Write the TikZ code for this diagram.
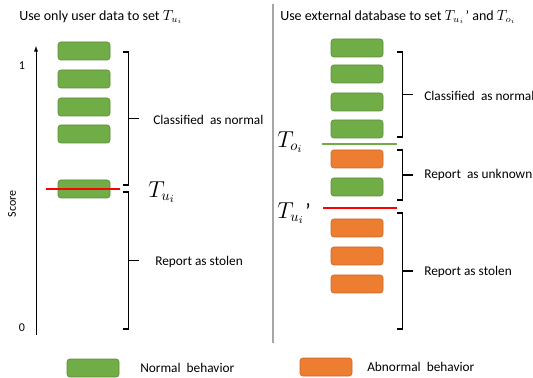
\documentclass[tikz,border=0pt]{standalone}
\usepackage{fontspec}
\setmainfont{Carlito}
\usetikzlibrary{positioning}
\usetikzlibrary{calc}
\usetikzlibrary{arrows}
\definecolor{normalgreen}{RGB}{112,173,71}
\definecolor{abnormalorange}{RGB}{237,125,49}
\tikzset{
    nbox/.style={draw=normalgreen!80!black,line width=0.4pt,fill=normalgreen,rounded corners=2pt,minimum width=39pt,minimum height=13.5pt,inner sep=0pt},
    abox/.style={nbox,draw=abnormalorange!85!black,fill=abnormalorange},
    lbl/.style={anchor=west,inner sep=0pt,font=\fontsize{10}{12}\selectfont},
    thr/.style={anchor=west,inner sep=0pt,font=\fontsize{16}{18}\selectfont},
    sqbrace/.style={line width=0.9pt,to path={-- ++(5.5,0) -- ($(\tikztotarget)+(5.5,0)$) -- (\tikztotarget)
        ([xshift=4.125pt]$(\tikztostart)!0.5!(\tikztotarget)$) -- ++(10,0)}}
}

\begin{document}
\begin{tikzpicture}[x=0.75pt,y=-0.75pt]
            \useasboundingbox (0,0) rectangle (533,378);

            % titles
            \node (ltitle) [anchor=west,inner sep=0pt,font=\fontsize{10.5}{12}\selectfont] at (19,17) {Use only user data to set \(T_{u_i}\)};
            \node (rtitle) [anchor=west,inner sep=0pt,font=\fontsize{10.5}{12}\selectfont] at (280,17) {Use external database to set \(T_{u_i}\)\kern1pt' and \(T_{o_i}\)};

            % score axis
            \coordinate (a0) at (36,335);
            \coordinate (a1) at (36,46);
            \draw[-latex,line width=0.5pt] (a0) -- (a1);
            \node (one)   [inner sep=0pt,font=\fontsize{9}{10}\selectfont] at (22,66)  {1};
            \node (zero)  [inner sep=0pt,font=\fontsize{9}{10}\selectfont] at (22,328) {0};
            \node (score) [inner sep=0pt,rotate=90,font=\fontsize{9}{10}\selectfont] at (12,204) {Score};

            % divider
            \coordinate (d0) at (273,4);
            \coordinate (d1) at (273,343);
            \draw[gray!70,line width=1.2pt] (d0) -- (d1);

            % left column
            \foreach \y [count=\i] in {51,79,107,134,189}
                \node (l\i) [nbox] at (84,\y) {};
            \coordinate (tl0) at (46,189);
            \coordinate (tl1) at (120,189);
            \draw[red,line width=1.4pt] (tl0) -- (tl1);
            \node (tul) [thr] at (148,192) {\(T_{u_i}\)};

            \coordinate (lb1t) at (123,52);
            \coordinate (lb1b) at (123,185);
            \coordinate (lb2t) at (123,192);
            \coordinate (lb2b) at (123,329);
            \draw[sqbrace] (lb1t) to (lb1b);
            \draw[sqbrace] (lb2t) to (lb2b);
            \node (lnorm)   [lbl] at (153,120) {Classified\ \ as normal};
            \node (lstolen) [lbl] at (155,262) {Report as stolen};

            % right column
            \foreach \y [count=\i] in {48,74,102,129}
                \node (r\i) [nbox] at (357,\y) {};
            \node (r5) [abox] at (357,159) {};
            \node (r6) [nbox] at (357,187) {};
            \foreach \y [count=\i from 7] in {228,256,284}
                \node (r\i) [abox] at (357,\y) {};

            \coordinate (to0) at (322,144);
            \coordinate (to1) at (397,144);
            \draw[normalgreen,line width=1.4pt] (to0) -- (to1);
            \coordinate (tu0) at (323,208);
            \coordinate (tu1) at (397,208);
            \draw[red,line width=1.4pt] (tu0) -- (tu1);
            \node (tor) [thr] at (277,142) {\(T_{o_i}\)};
            \node (tur) [thr] at (277,213) {\(T_{u_i}\)\kern1pt'};

            \coordinate (rb1t) at (397,52);
            \coordinate (rb1b) at (397,137);
            \coordinate (rb2t) at (397,150);
            \coordinate (rb2b) at (397,200);
            \coordinate (rb3t) at (397,213);
            \coordinate (rb3b) at (397,329);
            \draw[sqbrace] (rb1t) to (rb1b);
            \draw[sqbrace] (rb2t) to (rb2b);
            \draw[sqbrace] (rb3t) to (rb3b);
            \node (rnorm)    [lbl] at (424,96)  {Classified\ \ as normal};
            \node (runknown) [lbl] at (424,175) {Report\ \ as unknown};
            \node (rstolen)  [lbl] at (424,272) {Report as stolen};

            % legend
            \node (gkey) [nbox] at (93,368) {};
            \node (gtxt) [lbl] at (140,368) {Normal\ \ behavior};
            \node (okey) [abox] at (326,367) {};
            \node (otxt) [lbl] at (367,367) {Abnormal\ \ behavior};
        \end{tikzpicture}
\end{document}
